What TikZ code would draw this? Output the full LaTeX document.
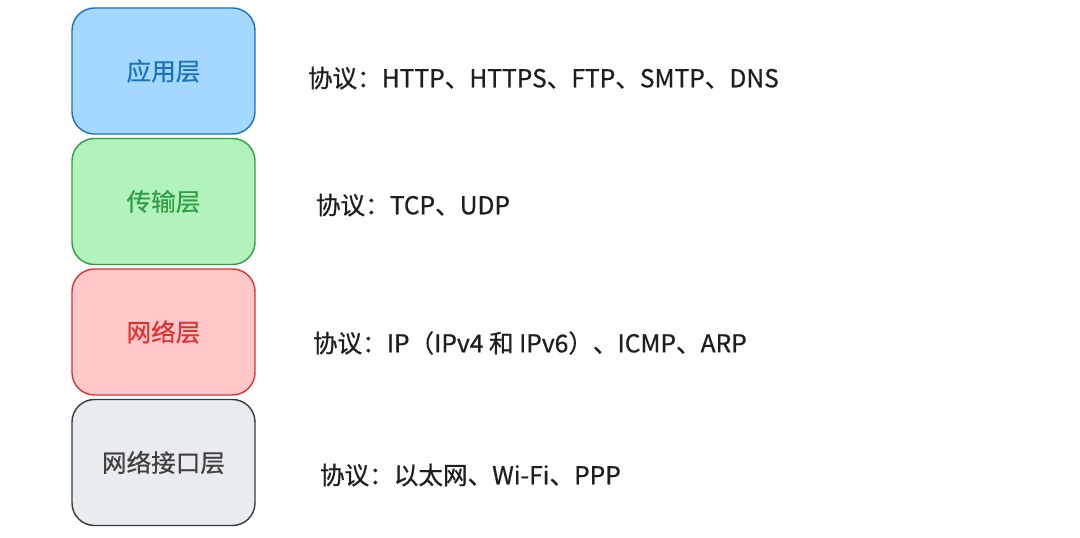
\documentclass[tikz,border=0pt]{standalone}
\usepackage{fontspec}
\setmainfont{Noto Sans CJK SC}[FakeBold=0.6]
\definecolor{appfill}{HTML}{A5D8FF}\definecolor{appline}{HTML}{1971C2}
\definecolor{tcpfill}{HTML}{B2F2BB}\definecolor{tcpline}{HTML}{2F9E44}
\definecolor{netfill}{HTML}{FFC9C9}\definecolor{netline}{HTML}{E03131}
\definecolor{ifcfill}{HTML}{E9ECEF}\definecolor{ifcline}{HTML}{343A40}
\definecolor{ink}{HTML}{1E1E1E}
\tikzset{
  layer/.style={draw,rounded corners=16pt,line width=1pt,minimum width=183*0.025cm,minimum height=126*0.025cm,font=\fontsize{17.5}{20}\selectfont},
  proto/.style={anchor=west,text=ink,font=\fontsize{17.5}{20}\selectfont}
}
\begin{document}
\begin{tikzpicture}[x=0.025cm,y=-0.025cm]
\useasboundingbox[fill=white] (0,0) rectangle (1080,538);
\node[layer,fill=appfill,draw=appline,text=appline] at (163.5,71) (app) {应用层};
\node[layer,fill=tcpfill,draw=tcpline,text=tcpline] at (163.5,201.5) (tcp) {传输层};
\node[layer,fill=netfill,draw=netline,text=netline] at (163.5,332) (net) {网络层};
\node[layer,fill=ifcfill,draw=ifcline,text=ink!85] at (163.5,462.5) (ifc) {网络接口层};
\node[proto] at (303,78) (papp) {协议：HTTP、HTTPS、FTP、SMTP、DNS};
\node[proto] at (311,205) (ptcp) {协议：TCP、UDP};
\node[proto] at (308,343) (pnet) {协议：IP（IPv4 和 IPv6）、ICMP、ARP};
\node[proto] at (315,475) (pifc) {协议：以太网、Wi-Fi、PPP};
\end{tikzpicture}
\end{document}
